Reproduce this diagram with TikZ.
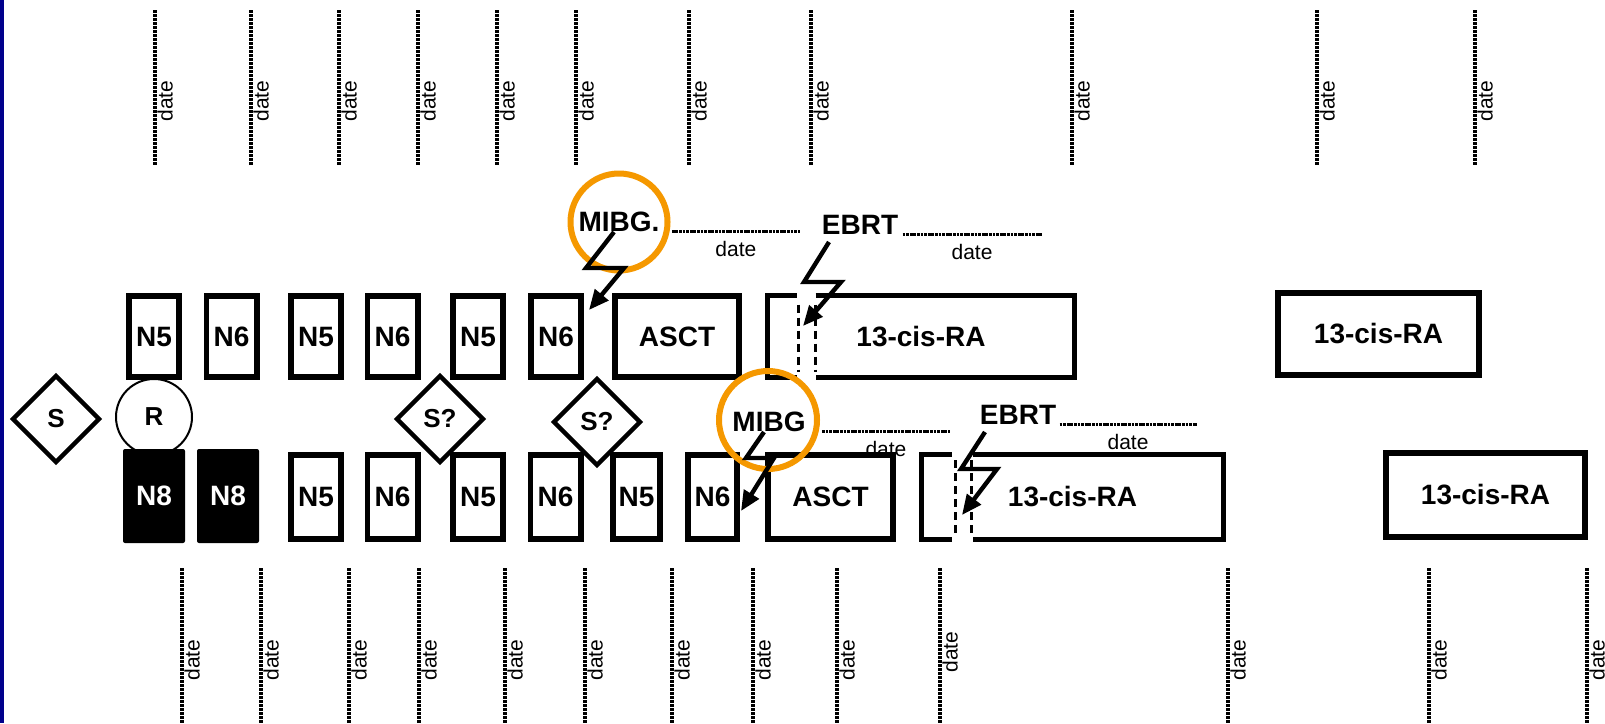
\documentclass[tikz,border=0pt]{standalone}
\usepackage{fontspec}
\setmainfont{Liberation Sans}
\usepackage{xcolor}
\usepackage{tikz}
\usetikzlibrary{arrows.meta, positioning, shapes.geometric}

\definecolor{ringorange}{RGB}{245,152,0}
\definecolor{slidenavy}{RGB}{0,0,140}

\begin{document}
\begin{tikzpicture}[x=0.5pt, y=-0.5pt,
    box/.style={rectangle, draw, line width=2.8pt, inner sep=0pt, font=\bfseries\fontsize{14}{16}\selectfont},
    cycbox/.style={box, minimum width=25.2pt},
    blackbox/.style={rectangle, fill=black, text=white, rounded corners=1pt, inner sep=0pt,
        minimum width=31pt, minimum height=47pt, font=\bfseries\fontsize{14}{16}\selectfont},
    splitbox/.style={rectangle, inner sep=0pt, font=\bfseries\fontsize{14}{16}\selectfont},
    boxline/.style={line width=2.8pt},
    cutline/.style={line width=1.2pt, dash pattern=on 4pt off 2.5pt},
    decide/.style={diamond, draw, line width=2.2pt, fill=white, inner sep=0pt, aspect=1,
        minimum width=44pt, minimum height=44pt, font=\bfseries\fontsize{13}{15}\selectfont},
    ring/.style={circle, draw=ringorange, line width=3pt, inner sep=0pt, minimum size=48.5pt},
    therapy/.style={inner sep=0pt, font=\bfseries\fontsize{14}{16}\selectfont},
    blank/.style={line width=1.4pt, dash pattern=on 1.4pt off 0.4pt},
    tick/.style={line width=1.8pt, dash pattern=on 1.6pt off 0.4pt},
    datelab/.style={font=\fontsize{10.5}{12}\selectfont},
    bolt/.style={line width=2.2pt, -{Triangle[length=10pt, width=8.5pt]}}
]
    \useasboundingbox (0,0) rectangle (1605,723);
    \fill[slidenavy] (0,0) rectangle (4,723);

    % date marks above
    \foreach \x [count=\i] in {155,251,339,418,497,576,689,811,1072,1317,1475} {
        \coordinate (ta\i) at (\x,10);
        \coordinate (tb\i) at (\x,165);
        \draw[tick] (ta\i) -- (tb\i);
        \node[datelab, rotate=90, anchor=north, inner sep=1pt] (td\i) at (\x,101) {date};
    }

    % date marks below
    \foreach \x/\y [count=\i] in {182/660,261/660,349/660,419/660,505/660,585/660,672/660,753/660,837/660,940/652,1228/660,1429/660,1587/660} {
        \coordinate (ba\i) at (\x,568);
        \coordinate (bb\i) at (\x,723);
        \draw[tick] (ba\i) -- (bb\i);
        \node[datelab, rotate=90, anchor=north, inner sep=1pt] (bd\i) at (\x,\y) {date};
    }

    % upper course
    \node[cycbox, minimum height=40.7pt] (ua1) at (154,336.5) {N5};
    \node[cycbox, minimum height=40.7pt] (ua2) at (231.5,336.5) {N6};
    \node[cycbox, minimum height=40.7pt] (ua3) at (316,336.5) {N5};
    \node[cycbox, minimum height=40.7pt] (ua4) at (392.5,336.5) {N6};
    \node[cycbox, minimum height=40.7pt] (ua5) at (478,336.5) {N5};
    \node[cycbox, minimum height=40.7pt] (ua6) at (556,336.5) {N6};
    \node[box, minimum width=62.2pt, minimum height=40.7pt] (asctTop) at (677,336.5) {ASCT};
    \node[splitbox, minimum width=153.2pt, minimum height=40.7pt] (cisTop) at (921,336.5) {13-cis-RA};
    \draw[boxline] ([xshift=14.6pt]cisTop.north west) -| (cisTop.south west) -- ++(29.2,0);
    \draw[boxline] ([xshift=24.1pt]cisTop.north west) -| (cisTop.south east) -- ([xshift=24.1pt]cisTop.south west);
    \draw[cutline] ([xshift=15.6pt,yshift=-4.6pt]cisTop.north west) -- ([xshift=15.6pt,yshift=2.6pt]cisTop.south west);
    \draw[cutline] ([xshift=24.1pt,yshift=-4.6pt]cisTop.north west) -- ([xshift=24.1pt,yshift=2.6pt]cisTop.south west);
    \node[box, minimum width=100.7pt, minimum height=41.2pt] (cisTopR) at (1378.5,334) {13-cis-RA};

    % start markers
    \node[decide] (scr) at (56,419) {S};
    \node[circle, draw, line width=1pt, inner sep=0pt, minimum size=38pt,
        font=\bfseries\fontsize{13}{15}\selectfont] (rand) at (154,417) {R};
    \node[decide] (sq1) at (440,419) {S?};
    \node[decide] (sq2) at (597,422) {S?};

    % lower course
    \node[blackbox] (lb1) at (154,496) {N8};
    \node[blackbox] (lb2) at (228,496) {N8};
    \node[cycbox, minimum height=42.2pt] (lb3) at (316,497) {N5};
    \node[cycbox, minimum height=42.2pt] (lb4) at (392.5,497) {N6};
    \node[cycbox, minimum height=42.2pt] (lb5) at (478,497) {N5};
    \node[cycbox, minimum height=42.2pt] (lb6) at (555.5,497) {N6};
    \node[box, minimum width=23.7pt, minimum height=42.2pt] (lb7) at (636.5,497) {N5};
    \node[box, minimum width=24.7pt, minimum height=42.2pt] (lb8) at (712.5,497) {N6};
    \node[box, minimum width=62.7pt, minimum height=42.2pt] (asctBot) at (830.5,497) {ASCT};
    \node[splitbox, minimum width=150.7pt, minimum height=42.2pt] (cisBot) at (1072.5,497) {13-cis-RA};
    \draw[boxline] ([xshift=15.1pt]cisBot.north west) -| (cisBot.south west) -- ++(30.2,0);
    \draw[boxline] ([xshift=25.6pt]cisBot.north west) -| (cisBot.south east) -- ([xshift=25.6pt]cisBot.south west);
    \draw[cutline] ([xshift=17.1pt,yshift=-3pt]cisBot.north west) -- ([xshift=17.1pt,yshift=1pt]cisBot.south west);
    \draw[cutline] ([xshift=25.1pt,yshift=-3pt]cisBot.north west) -- ([xshift=25.1pt,yshift=1pt]cisBot.south west);
    \node[box, minimum width=99.7pt, minimum height=42.2pt] (cisBotR) at (1485.5,495) {13-cis-RA};

    % MIBG and EBRT, upper course
    \node[therapy] (mibgTop) at (619,222) {MIBG.};
    \draw[blank] ([xshift=6pt]mibgTop.base east) -- ++(128,0) node[datelab, midway, below=1pt] {date};
    \node[therapy] (ebrtTop) at (860,225) {EBRT};
    \draw[blank] ([xshift=2pt]ebrtTop.base east) -- ++(139,0) node[datelab, midway, below=1pt] {date};

    % MIBG and EBRT, lower course
    \node[therapy] (mibgBot) at (769,422) {MIBG};
    \draw[blank] ([xshift=8pt]mibgBot.base east) -- ++(128,0) node[datelab, midway, below=1pt] {date};
    \node[therapy] (ebrtBot) at (1018,415) {EBRT};
    \draw[blank] ([xshift=1.5pt]ebrtBot.base east) -- ++(137,0) node[datelab, midway, below=1pt] {date};

    % highlight rings
    \node[ring] (ringTop) at (619,222) {};
    \node[ring, minimum size=49pt] (ringBot) at (768,420) {};

    % bolts
    \coordinate (hitA) at (589,310);
    \coordinate (hitB) at (803,326);
    \coordinate (hitC) at (741,511);
    \coordinate (hitD) at (962,515);
    \draw[bolt] ([xshift=-2.5pt,yshift=-5pt]mibgTop.center) -- ++(-28,36) -- ++(38,0) -- (hitA);
    \draw[bolt] ([xshift=-15.5pt,yshift=-8.5pt]ebrtTop.center) -- ++(-25,40) -- ++(37,0) -- (hitB);
    \draw[bolt] ([xshift=-2.5pt,yshift=-5pt]mibgBot.center) -- ++(-18,26) -- ++(28,0) -- (hitC);
    \draw[bolt] ([xshift=-16.5pt,yshift=-8.5pt]ebrtBot.center) -- ++(-24,37) -- ++(36,0) -- (hitD);
\end{tikzpicture}
\end{document}
